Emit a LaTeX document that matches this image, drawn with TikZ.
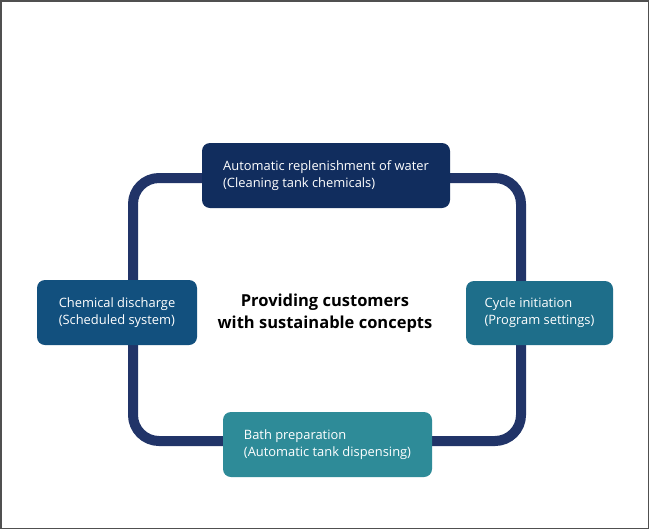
\documentclass[tikz,border=0pt]{standalone}
\usepackage{fontspec}
\setmainfont{Open Sans}
\definecolor{loopcol}{RGB}{33,52,104}
\definecolor{ctop}{RGB}{17,45,94}
\definecolor{cleft}{RGB}{18,80,126}
\definecolor{cright}{RGB}{30,110,138}
\definecolor{cbottom}{RGB}{46,139,152}
\definecolor{frame}{RGB}{80,80,80}
\tikzset{
  stage/.style={rounded corners=8pt, text=white, align=left, inner sep=0pt,
    font=\fontsize{12.9}{17}\selectfont,
    execute at begin node={\rule{0pt}{14.5pt}}},
  loopline/.style={draw=loopcol, line width=10pt, rounded corners=26pt},
}
\begin{document}
\begin{tikzpicture}[x=1pt,y=-1pt]
\useasboundingbox (0,0) rectangle (650,530);
\fill[white] (0,0) rectangle (650,530);
\draw[frame, line width=1.6pt] (0.8,0.8) rectangle (648.5,528.5);
\coordinate (tl) at (133,178);
\coordinate (br) at (521,441);
\draw[loopline] (tl) rectangle (br);
\node[stage, fill=ctop, minimum width=248pt, minimum height=65pt] (top) at (326,175.5)
  {Automatic replenishment of water\\(Cleaning tank chemicals)};
\node[stage, fill=cleft, minimum width=160pt, minimum height=65pt] (left) at (117,312.5)
  {Chemical discharge\\(Scheduled system)};
\node[stage, fill=cright, minimum width=147pt, minimum height=64pt] (right) at (539.5,313)
  {Cycle initiation\\(Program settings)};
\node[stage, fill=cbottom, minimum width=209pt, minimum height=65pt] (bottom) at (327.5,444.5)
  {Bath preparation\\(Automatic tank dispensing)};
\node[font=\fontsize{16.5}{22}\selectfont\bfseries, align=center, text=black] (center) at (325,313)
  {Providing customers\\with sustainable concepts};
\end{tikzpicture}
\end{document}
